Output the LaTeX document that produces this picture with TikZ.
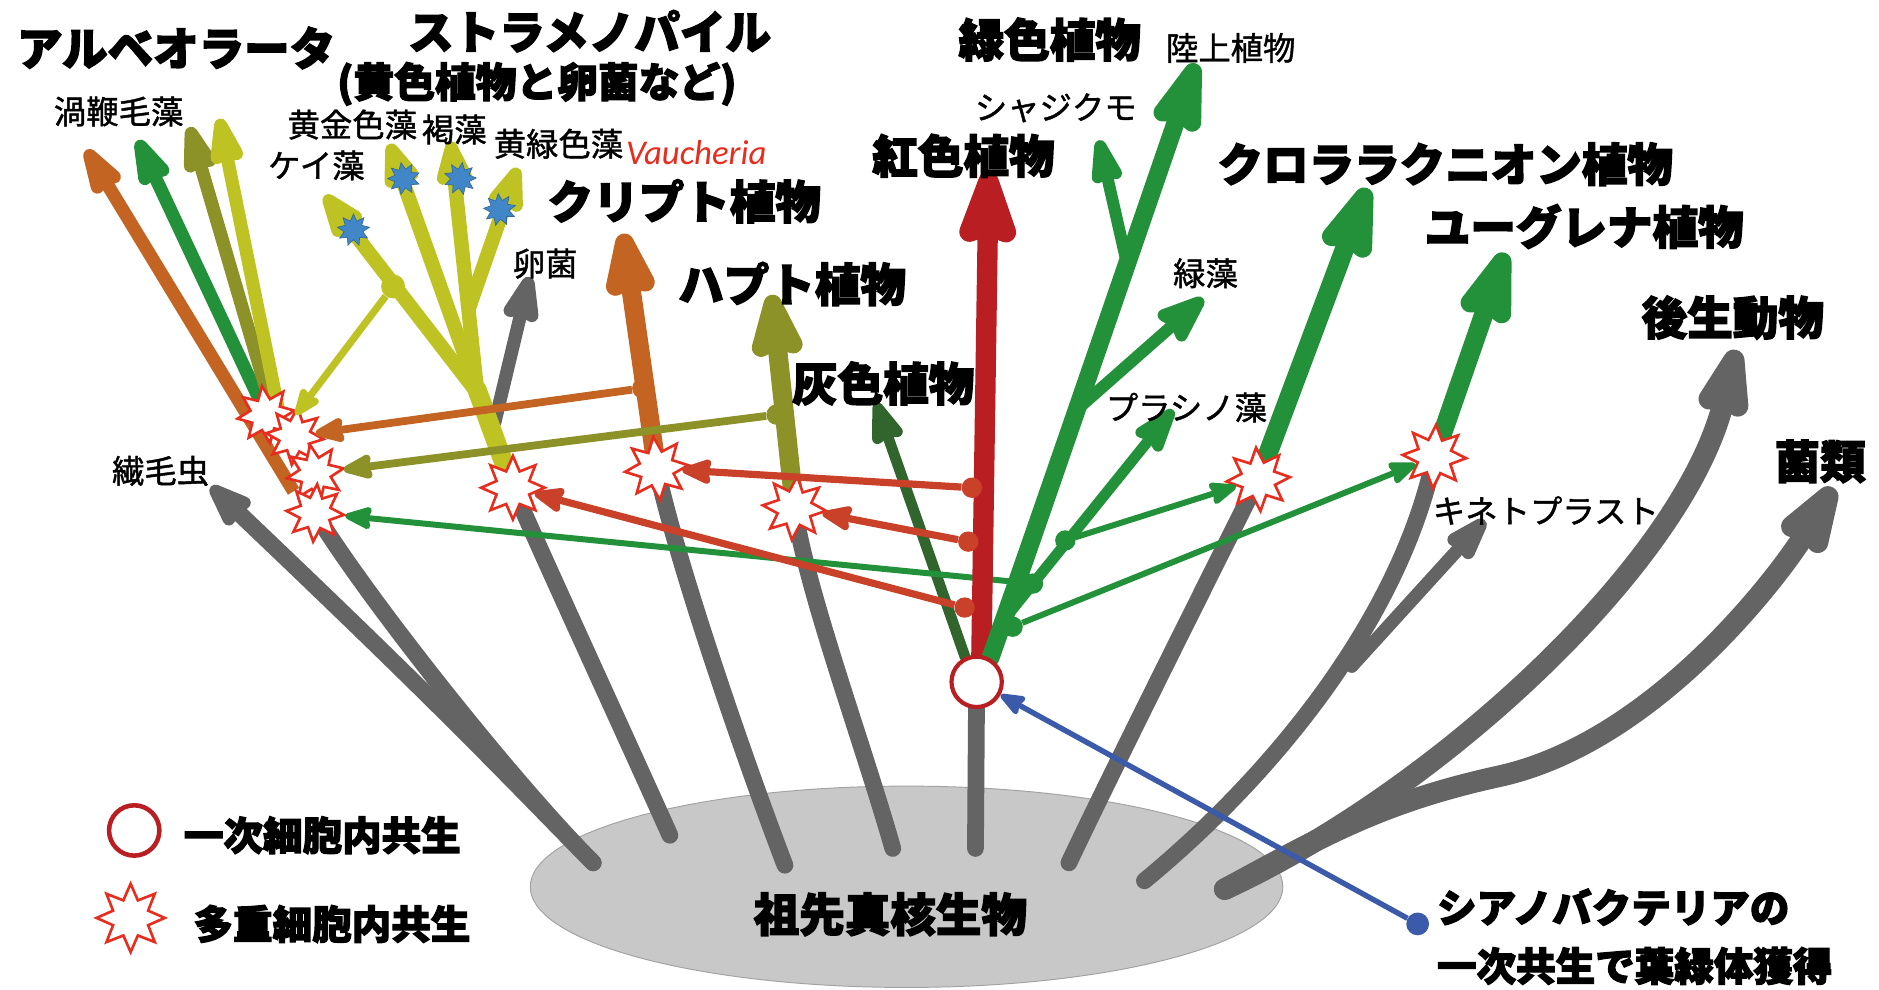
\documentclass[tikz,border=0pt]{standalone}
\usepackage{fontspec}
\setmainfont{Noto Sans CJK JP}[BoldFeatures={FakeBold=3}]
\newfontfamily\medfont{Noto Sans CJK JP}[FakeBold=1.3]
\newfontfamily\latfont{Carlito}
\usetikzlibrary{arrows.meta,shapes.geometric}
\pgfdeclarelayer{back}
\pgfdeclarelayer{mid}
\pgfsetlayers{back,mid,main}
\definecolor{cGreen}{RGB}{34,145,58}
\definecolor{cDkGreen}{RGB}{50,100,45}
\definecolor{cRed}{RGB}{185,30,35}
\definecolor{cRedO}{RGB}{200,65,40}
\definecolor{cOrange}{RGB}{195,100,35}
\definecolor{cOlive}{RGB}{140,145,40}
\definecolor{cYellow}{RGB}{190,195,35}
\definecolor{cGrey}{RGB}{100,100,100}
\definecolor{cBlue}{RGB}{60,90,170}
\definecolor{cStar}{RGB}{230,45,30}
\definecolor{cBStar}{RGB}{65,135,200}
\definecolor{cEll}{RGB}{200,200,200}
\tikzset{
  ah/.style n args={3}{-{Stealth[length=#1,width=#2,inset=#3,round]}},
  gl/.style={draw=cGrey, line width=14pt, line cap=round},
  xstar/.style={star, star points=8, star point ratio=1.8, minimum size=48pt, inner sep=0pt, draw=cStar, fill=white, line width=2.2pt},
  bstar/.style={star, star points=9, star point ratio=1.7, minimum size=27pt, inner sep=0pt, fill=cBStar, draw=cBStar!75!black, line width=0.5pt},
  jdot/.style={circle, fill=#1, minimum size=17pt, inner sep=0pt},
  bt/.style={font=\bfseries\fontsize{38pt}{40pt}\selectfont, inner sep=0pt},
  rt/.style={font=\medfont\fontsize{27pt}{29pt}\selectfont, inner sep=0pt},
  lt/.style={font=\bfseries\fontsize{33pt}{35pt}\selectfont, inner sep=0pt},
}
\begin{document}
\begin{tikzpicture}[x=1pt,y=-1pt]
\useasboundingbox (0,0) rectangle (1568,826);

% ---------- stars (multiple endosymbiosis) ----------
\node[xstar, rotate=8] (sA) at (222,346) {};
\node[xstar, rotate=-6] (sB) at (246,364) {};
\node[xstar, rotate=10] (sC) at (263,395) {};
\node[xstar, rotate=-4] (sD) at (263,428) {};
\node[xstar, minimum size=53pt] (sStr) at (428,407) {};
\node[xstar, minimum size=53pt, rotate=6] (sCry) at (548,391) {};
\node[xstar, minimum size=53pt, rotate=-5] (sHap) at (663,424) {};
\node[xstar, minimum size=53pt, rotate=4] (sChl) at (1050,400) {};
\node[xstar, minimum size=53pt, rotate=-3] (sEug) at (1197,381) {};

% primary endosymbiosis circle
\node[circle, draw=cRed, line width=3.5pt, fill=white, minimum size=42pt, inner sep=0pt] (pc) at (815,569) {};

% junction dots
\node[jdot=cRedO] (rd1) at (811,407) {};
\node[jdot=cRedO] (rd2) at (808,452) {};
\node[jdot=cRedO] (rd3) at (805,507) {};
\node[jdot=cGreen] (gE) at (845,523) {};
\node[jdot=cGreen] (gA) at (862,487) {};
\node[jdot=cGreen] (gC) at (889,451) {};
\node[jdot=cOrange] (cd) at (536,324) {};
\node[jdot=cOlive] (hd) at (648,346) {};
\node[jdot=cYellow, minimum size=20pt] (kd) at (328,239) {};

% coordinates
\coordinate (bA) at (495,720);
\coordinate (b2) at (559,697);
\coordinate (b3) at (655,722);
\coordinate (b4) at (745,708);
\coordinate (b5) at (814,708);
\coordinate (b6) at (892,720);
\coordinate (b7) at (955,735);
\coordinate (b8) at (1022,742);
\coordinate (jK) at (1128,556);
\coordinate (bOo) at (413,352);
\coordinate (pCil) at (176,406);
\coordinate (pOo) at (442,231);
\coordinate (pKin) at (1239,434);
\coordinate (pMet) at (1449,292);
\coordinate (pFun) at (1530,407);
\coordinate (pRed) at (825,143);
\coordinate (pDG) at (731,336);
\coordinate (pLand) at (998,53);
\coordinate (jCha) at (940,218);
\coordinate (pCha) at (917,117);
\coordinate (jGA) at (903,338);
\coordinate (pGA) at (1004,249);
\coordinate (jPr) at (842,512);
\coordinate (pPr) at (979,342);
\coordinate (pChl) at (1141,157);
\coordinate (pEug) at (1256,211);
\coordinate (pCry) at (520,195);
\coordinate (pHap) at (644,246);
\coordinate (aOr) at (245,410);
\coordinate (pOr) at (72,125);
\coordinate (aGr) at (222,345);
\coordinate (pGr) at (115,117);
\coordinate (aOl) at (228,345);
\coordinate (pOl) at (158,106);
\coordinate (aYe) at (233,345);
\coordinate (pYe) at (183,99);
\coordinate (sj) at (398,325);
\coordinate (jXa) at (391,258);
\coordinate (pKa) at (376,118);
\coordinate (pXa) at (432,140);
\coordinate (pKo) at (325,120);
\coordinate (jKei) at (400,330);
\coordinate (pKei) at (271,163);
\coordinate (pKd) at (247,346);

% ---------- background ellipse ----------
\begin{pgfonlayer}{back}
\node[ellipse, fill=cEll, draw=cGrey!60, line width=0.8pt, minimum width=628pt, minimum height=168pt, inner sep=0pt] (anc) at (756.5,740) {};
\end{pgfonlayer}

% ---------- lines under the stars ----------
\begin{pgfonlayer}{mid}
% grey lineages
\draw[gl] (bA) .. controls (420,644) and (300,490) .. (sD.center);
\draw[gl, ah={47pt}{34pt}{5pt}] (bA) .. controls (420,644) and (380,600) .. (pCil);
\draw[gl] (b2) .. controls (520,610) and (460,480) .. (sStr.center);
\draw[gl] (b3) .. controls (620,630) and (565,470) .. (sCry.center);
\draw[gl] (b4) .. controls (720,620) and (672,490) .. (sHap.center);
\draw[gl] (b5) -- (pc.center);
\draw[gl] (b6) .. controls (925,650) and (1000,500) .. (sChl.center);
\draw[gl] (b7) .. controls (1070,640) and (1170,510) .. (sEug.center);
\draw[gl, line width=11pt, ah={50pt}{31pt}{5pt}] (jK) -- (pKin);
\draw[gl, line width=18pt, ah={78pt}{48pt}{7pt}] (b8) .. controls (1200,660) and (1405,470) .. (pMet);
\draw[gl, line width=18pt, ah={78pt}{49pt}{7pt}] (b8) .. controls (1100,700) and (1150,670) .. (1250,648) .. controls (1380,620) and (1485,480) .. (pFun);
\draw[gl, line width=11pt, ah={50pt}{34pt}{5pt}] (bOo) -- (pOo);

% alveolata arrows
\draw[cOrange, line width=11pt, ah={53pt}{31pt}{5pt}] (aOr) -- (pOr);
\draw[cGreen, line width=11pt, ah={53pt}{31pt}{5pt}] (aGr) -- (pGr);
\draw[cOlive, line width=11pt, ah={53pt}{31pt}{5pt}] (aOl) -- (pOl);
\draw[cYellow, line width=11pt, ah={53pt}{31pt}{5pt}] (aYe) -- (pYe);

% stramenopile arrows
\draw[cYellow, line width=16pt, line cap=round] (sStr.center) -- (sj);
\draw[cYellow, line width=12pt, ah={48pt}{34pt}{5pt}] (sj) -- (pKa);
\draw[cYellow, line width=12pt, ah={48pt}{34pt}{5pt}] (jXa) -- (pXa);
\draw[cYellow, line width=12pt, ah={48pt}{34pt}{5pt}] (sj) -- (pKo);
\draw[cYellow, line width=12pt, ah={48pt}{34pt}{5pt}] (jKei) -- (pKei);

% cryptophyte and haptophyte
\draw[cOrange, line width=16pt, ah={70pt}{47pt}{7pt}] (sCry.center) -- (pCry);
\draw[cOlive, line width=16pt, ah={68pt}{49pt}{7pt}] (sHap.center) -- (pHap);

% glaucophyte
\draw[cDkGreen, line width=9pt, line cap=round, ah={44pt}{30pt}{4pt}] (pc.115) -- (pDG);
% green arrow to alveolata
\draw[cGreen, line width=5pt, ah={27pt}{21pt}{3pt}] (gA) -- (sD);
% red algae
\draw[cRed, line width=17pt, ah={80pt}{54pt}{8pt}] (pc.80) -- (pRed);

% green plants
\draw[cGreen, line width=15pt, line cap=round, ah={76pt}{46pt}{7pt}] (pc.60) .. controls (865,440) and (925,265) .. (pLand);
\draw[cGreen, line width=10pt, ah={50pt}{29pt}{5pt}] (jCha) -- (pCha);
\draw[cGreen, line width=10pt, ah={50pt}{37pt}{5pt}] (jGA) -- (pGA);
\draw[cGreen, line width=9pt, ah={48pt}{31pt}{5pt}] (jPr) -- (pPr);

% chlorarachniophytes and euglenids
\draw[cGreen, line width=16pt, ah={77pt}{49pt}{7pt}] (sChl.center) -- (pChl);
\draw[cGreen, line width=16pt, ah={78pt}{49pt}{7pt}] (sEug.center) -- (pEug);
\end{pgfonlayer}

% ---------- arrows into the stars ----------
\draw[cRedO, line width=6pt, ah={30pt}{23pt}{3pt}] (rd1) -- (sCry);
\draw[cRedO, line width=6pt, ah={30pt}{23pt}{3pt}] (rd2) -- (sHap);
\draw[cRedO, line width=6pt, ah={30pt}{23pt}{3pt}] (rd3) -- (sStr);
\draw[cOrange, line width=6.5pt, ah={30pt}{23pt}{3pt}] (cd) -- (sB);
\draw[cOlive, line width=6.5pt, ah={30pt}{23pt}{3pt}] (hd) -- (sC);
\draw[cYellow, line width=6pt, ah={28pt}{21pt}{3pt}] (kd) -- (pKd);
\draw[cGreen, line width=5pt, ah={27pt}{21pt}{3pt}] (gC) -- (sChl);
\draw[cGreen, line width=5pt, ah={27pt}{21pt}{3pt}] (gE) -- (sEug);

% blue stars
\node[bstar] (bs1) at (295,192) {};
\node[bstar, rotate=10] (bs2) at (337,149) {};
\node[bstar, rotate=-8] (bs3) at (384,149) {};
\node[bstar, rotate=5] (bs4) at (417,175) {};

% cyanobacteria
\node[circle, fill=cBlue, minimum size=19pt, inner sep=0pt] (bd) at (1183,771) {};
\draw[cBlue, line width=4.5pt, ah={25pt}{19pt}{3pt}] (bd) -- (pc);

% legend
\node[circle, draw=cRed, line width=3.8pt, fill=white, minimum size=42pt, inner sep=0pt] (lgC) at (112,693) {};
\node[xstar, minimum size=57pt] (lgS) at (109,766) {};

% ---------- texts ----------
\node[bt] (tAlv) at (147,40) {アルベオラータ};
\node[bt] (tStr) at (492,26) {ストラメノパイル};
\node[bt, font=\bfseries\fontsize{34pt}{36pt}\selectfont] (tStr2) at (448,70) {(黄色植物と卵菌など)};
\node[bt] (tGrn) at (876,33) {緑色植物};
\node[bt] (tRho) at (804,130) {紅色植物};
\node[bt] (tCryT) at (571,168) {クリプト植物};
\node[bt] (tHapT) at (661,237) {ハプト植物};
\node[bt] (tGla) at (737,320) {灰色植物};
\node[bt] (tChlT) at (1206,137) {クロララクニオン植物};
\node[bt] (tEugT) at (1322,189) {ユーグレナ植物};
\node[bt] (tMetT) at (1446,265) {後生動物};
\node[bt] (tFunT) at (1519,385) {菌類};
\node[bt] (tAnc) at (743,763) {祖先真核生物};
\node[lt] (tL1) at (269,697) {一次細胞内共生};
\node[lt] (tL2) at (277,771) {多重細胞内共生};
\node[lt, anchor=west] (tCy1) at (1199,757) {シアノバクテリアの};
\node[lt, anchor=west] (tCy2) at (1199,806) {一次共生で葉緑体獲得};

\node[rt] (tDino) at (99,93) {渦鞭毛藻};
\node[rt] (tGold) at (294,104) {黄金色藻};
\node[rt] (tBrown) at (379,108) {褐藻};
\node[rt] (tXanth) at (466,120) {黄緑色藻};
\node[inner sep=0pt, text=cStar, font=\latfont\itshape\fontsize{29pt}{31pt}\selectfont] (tVau) at (581,127) {Vaucheria};
\node[rt] (tDiat) at (264,138) {ケイ藻};
\node[rt] (tOomy) at (455,220) {卵菌};
\node[rt] (tCili) at (134,393) {繊毛虫};
\node[rt] (tLand) at (1027,40) {陸上植物};
\node[rt] (tChara) at (881,90) {シャジクモ};
\node[rt] (tGAlg) at (1006,228) {緑藻};
\node[rt] (tPras) at (990,340) {プラシノ藻};
\node[rt] (tKine) at (1290,426) {キネトプラスト};
\end{tikzpicture}
\end{document}
